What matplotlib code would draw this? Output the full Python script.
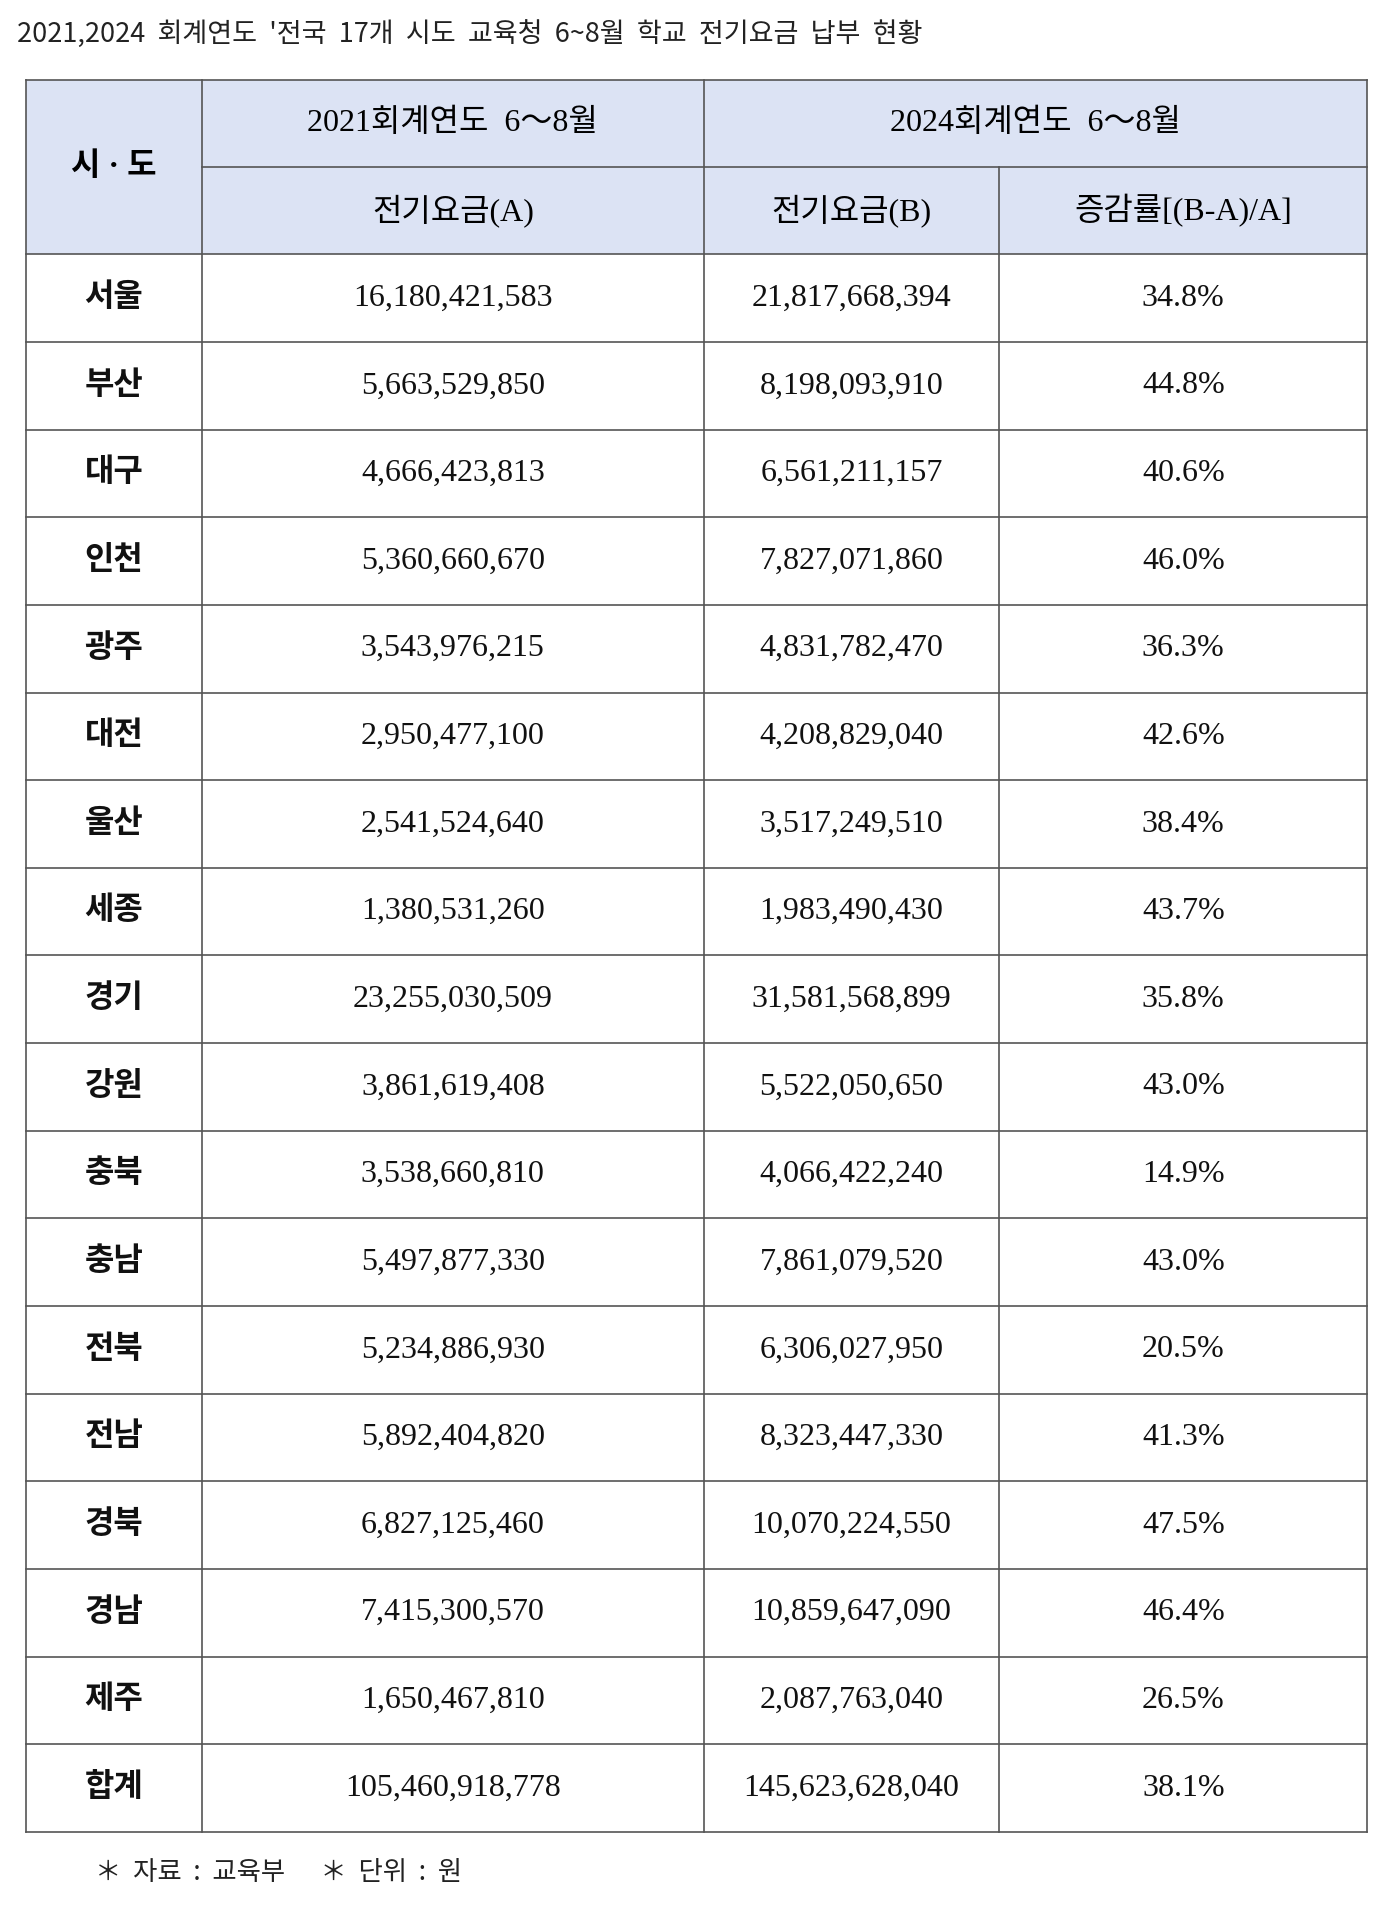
import matplotlib
matplotlib.use("Agg")
import matplotlib.pyplot as plt
from matplotlib.patches import Rectangle

title = "2021,2024  회계연도  '전국  17개  시도  교육청  6~8월  학교  전기요금  납부  현황"
regions = ["서울","부산","대구","인천","광주","대전","울산","세종","경기","강원","충북","충남","전북","전남","경북","경남","제주","합계"]
fee_2021 = ["16,180,421,583","5,663,529,850","4,666,423,813","5,360,660,670","3,543,976,215","2,950,477,100",
            "2,541,524,640","1,380,531,260","23,255,030,509","3,861,619,408","3,538,660,810","5,497,877,330",
            "5,234,886,930","5,892,404,820","6,827,125,460","7,415,300,570","1,650,467,810","105,460,918,778"]
fee_2024 = ["21,817,668,394","8,198,093,910","6,561,211,157","7,827,071,860","4,831,782,470","4,208,829,040",
            "3,517,249,510","1,983,490,430","31,581,568,899","5,522,050,650","4,066,422,240","7,861,079,520",
            "6,306,027,950","8,323,447,330","10,070,224,550","10,859,647,090","2,087,763,040","145,623,628,040"]
change = ["34.8%","44.8%","40.6%","46.0%","36.3%","42.6%","38.4%","43.7%","35.8%","43.0%","14.9%","43.0%",
          "20.5%","41.3%","47.5%","46.4%","26.5%","38.1%"]
footer = "＊  자료  :  교육부      ＊  단위  :  원"

SER = ["Liberation Serif", "Noto Sans CJK KR"]
SANS = ["Noto Sans CJK KR", "DejaVu Sans"]

fig = plt.figure(figsize=(14, 19.11), dpi=100)
ax = fig.add_axes([0, 0, 1, 1])
ax.set_xlim(0, 1150); ax.set_ylim(1570, 0); ax.axis("off")

L, R = 21, 1123
cx = [21, 166, 578, 821, 1123]
top, h1, h2 = 66, 137, 209
rh = 72
bottom = h2 + rh * len(regions)
lc = "#555555"

ax.add_patch(Rectangle((L, top), R - L, h2 - top, facecolor="#dce3f4", edgecolor="none"))
ax.text(14, 28, title, fontsize=19.5, family=SANS, va="center", ha="left", color="#222222")

lw = 1.2
ax.plot([L, R], [top, top], color=lc, lw=lw)
ax.plot([cx[1], R], [h1, h1], color=lc, lw=lw)
for i in range(len(regions) + 1):
    y = h2 + rh * i
    ax.plot([L, R], [y, y], color=lc, lw=lw)
for i, x in enumerate(cx):
    y0 = h1 if i == 3 else top
    ax.plot([x, x], [y0, bottom], color=lc, lw=lw)

fs = 23
ax.text((cx[0] + cx[1]) / 2, (top + h2) / 2, "시 · 도", fontsize=fs, family=SER, ha="center", va="center", weight="bold")
ax.text((cx[1] + cx[2]) / 2, (top + h1) / 2, "2021회계연도  6～8월", fontsize=fs, family=SER, ha="center", va="center")
ax.text((cx[2] + cx[4]) / 2, (top + h1) / 2, "2024회계연도  6～8월", fontsize=fs, family=SER, ha="center", va="center")
for j, s in enumerate(["전기요금(A)", "전기요금(B)", "증감률[(B-A)/A]"]):
    ax.text((cx[j + 1] + cx[j + 2]) / 2, (h1 + h2) / 2, s, fontsize=fs, family=SER, ha="center", va="center")

for i, r in enumerate(regions):
    y = h2 + rh * (i + 0.5)
    for j, s in enumerate([r, fee_2021[i], fee_2024[i], change[i]]):
        ax.text((cx[j] + cx[j + 1]) / 2, y, s, fontsize=fs, family=SER, ha="center", va="center",
                color="#111111", weight="bold" if j == 0 else "normal")

ax.text(78, 1538, footer, fontsize=19, family=SANS, ha="left", va="center", color="#222222")
fig.savefig("out.png", dpi=100, facecolor="white")
